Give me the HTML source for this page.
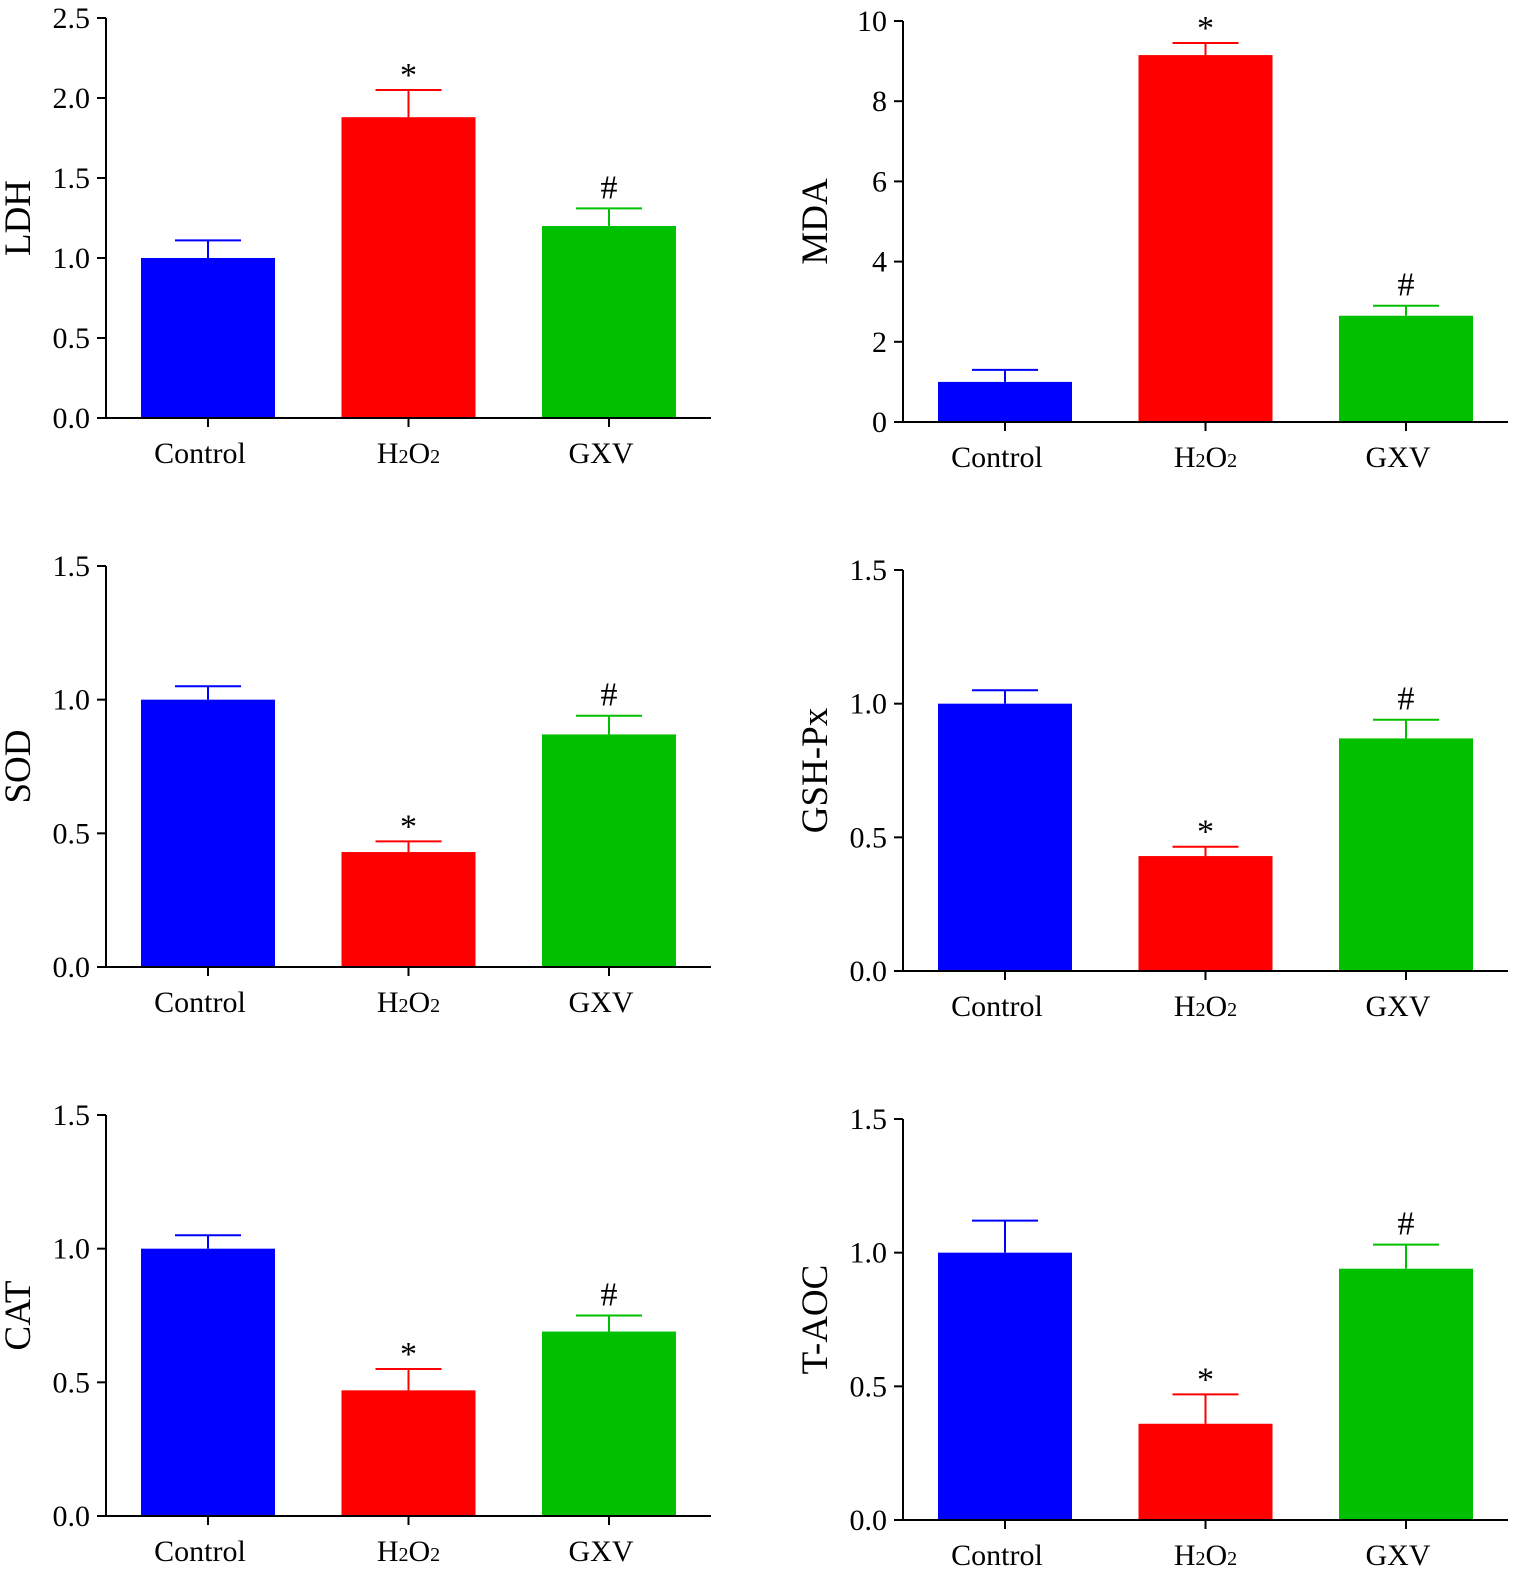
<!DOCTYPE html>
<html><head><meta charset="utf-8">
<style>
html,body{margin:0;padding:0;background:#fff;}
svg{display:block;font-family:"Liberation Serif",serif;}
</style></head>
<body>
<svg id="fig" width="1535" height="1591" viewBox="0 0 1535 1591" xmlns="http://www.w3.org/2000/svg"></svg>
<script>
const categories = ["Control", "H2O2", "GXV"];
const ldhValues = [1.0, 1.88, 1.2];
const ldhErrors = [0.11, 0.17, 0.11];
const mdaValues = [1.0, 9.15, 2.65];
const mdaErrors = [0.3, 0.3, 0.25];
const sodValues = [1.0, 0.43, 0.87];
const sodErrors = [0.05, 0.04, 0.07];
const gshValues = [1.0, 0.43, 0.87];
const gshErrors = [0.05, 0.035, 0.07];
const catValues = [1.0, 0.47, 0.69];
const catErrors = [0.05, 0.08, 0.06];
const taocValues = [1.0, 0.36, 0.94];
const taocErrors = [0.12, 0.11, 0.09];
const marks = ["", "*", "#"];
const ldhTicks = ["0.0","0.5","1.0","1.5","2.0","2.5"];
const mdaTicks = ["0","2","4","6","8","10"];
const unitTicks = ["0.0","0.5","1.0","1.5"];

const colors = ["#0000ff", "#ff0000", "#00c000"];
const svg = document.getElementById('fig');
const NS = "http://www.w3.org/2000/svg";
function mk(tag, attrs, parent){
  const e = document.createElementNS(NS, tag);
  for (const k in attrs) e.setAttribute(k, attrs[k]);
  (parent||svg).appendChild(e);
  return e;
}

const panels = [
  {name:"ldh", title:"LDH", ax:106, top:18, zero:418, max:2.5, ticks:ldhTicks, vals:ldhValues, errs:ldhErrors},
  {name:"mda", title:"MDA", ax:903, top:21, zero:422, max:10, ticks:mdaTicks, vals:mdaValues, errs:mdaErrors},
  {name:"sod", title:"SOD", ax:106, top:566, zero:967, max:1.5, ticks:unitTicks, vals:sodValues, errs:sodErrors},
  {name:"gsh-px", title:"GSH-Px", ax:903, top:570, zero:971, max:1.5, ticks:unitTicks, vals:gshValues, errs:gshErrors},
  {name:"cat", title:"CAT", ax:106, top:1115, zero:1516, max:1.5, ticks:unitTicks, vals:catValues, errs:catErrors},
  {name:"t-aoc", title:"T-AOC", ax:903, top:1119, zero:1520, max:1.5, ticks:unitTicks, vals:taocValues, errs:taocErrors}
];

panels.forEach(p => {
  const g = mk('g', {});
  
  
  const y = v => p.zero - (v / p.max) * (p.zero - p.top);
  const xc = i => p.ax + 102 + i * 200.5;
  const bw = 134;
  p.vals.forEach((v, i) => {
    const r = mk('rect', {x: xc(i) - bw/2, y: y(v), width: bw, height: p.zero - y(v), fill: colors[i]}, g);
    
    
    const ey = y(v + p.errs[i]);
    const e = mk('path', {d: `M${xc(i)} ${y(v)}V${ey}M${xc(i)-33} ${ey}H${xc(i)+33}`, stroke: colors[i], 'stroke-width': 2, fill: 'none'}, g);
    
    
    if (marks[i]) {
      const t = mk('text', {x: xc(i), y: ey - (marks[i] === "*" ? 4 : 10), 'font-size': 34, 'text-anchor': 'middle'}, g);
      t.textContent = marks[i];
      
      
    }
  });
  const axis = mk('path', {d: `M${p.ax} ${p.top}V${p.zero}H${p.ax+605}`, stroke: '#000', 'stroke-width': 2, fill: 'none'}, g);
  
  
  p.ticks.forEach((lab) => {
    const v = parseFloat(lab);
    const ty = y(v);
    mk('line', {x1: p.ax - 9, x2: p.ax, y1: ty, y2: ty, stroke: '#000', 'stroke-width': 2}, g);
    const t = mk('text', {x: p.ax - 16, y: ty + 10, 'font-size': 30, 'text-anchor': 'end'}, g);
    t.textContent = lab;
    
    
  });
  categories.forEach((c, i) => {
    mk('line', {x1: xc(i), x2: xc(i), y1: p.zero, y2: p.zero + 9, stroke: '#000', 'stroke-width': 2}, g);
    const t = mk('text', {x: xc(i) - 8, y: p.zero + 45, 'font-size': 30, 'text-anchor': 'middle'}, g);
    if (c === "H2O2") {
      t.innerHTML = 'H<tspan font-size="20">2</tspan>O<tspan font-size="20">2</tspan>';
      t.setAttribute('x', xc(i));
    } else t.textContent = c;
    
    
  });
  const cy = (p.top + p.zero) / 2;
  const tx = p.ax - 76;
  const tt = mk('text', {x: tx, y: cy, 'font-size': 37, 'text-anchor': 'middle', transform: `rotate(-90 ${tx} ${cy})`}, g);
  tt.textContent = p.title;
  
  
});
</script>
</body></html>
